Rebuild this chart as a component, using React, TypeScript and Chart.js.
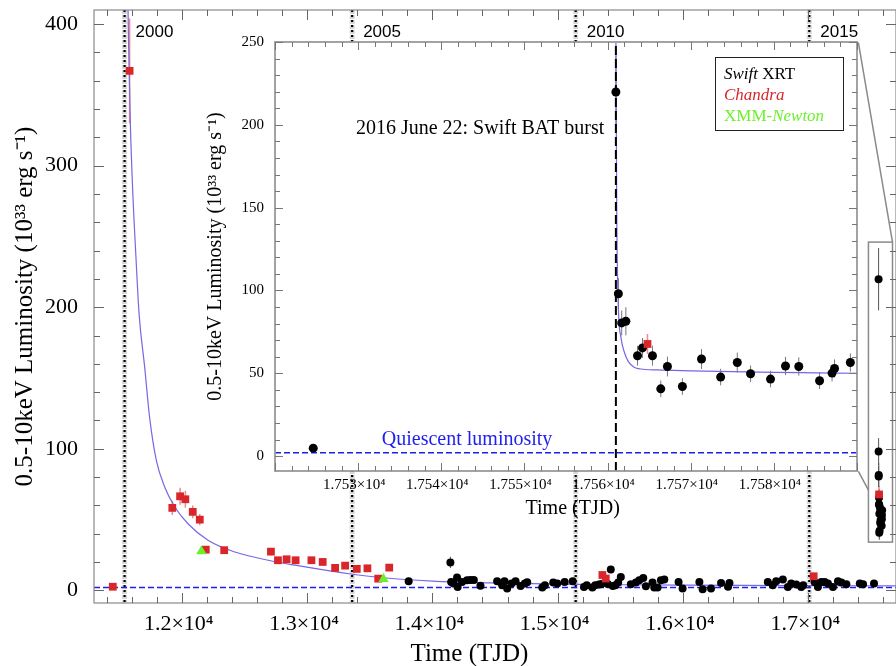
import React, { useEffect, useRef } from "react";
import { Chart, registerables } from "chart.js";
Chart.register(...registerables);

const SERIF = "'Liberation Serif', 'Times New Roman', serif";
const SANS = "'Liberation Sans', Arial, sans-serif";

// ---------------- main light curve data (TJD, 10^33 erg/s) ----------------
const XRT_T = [
  13811, 14144, 14150, 14170, 14197, 14202, 14237, 14277, 14304, 14331,
  14384, 14517, 14557, 14576, 14597, 14632, 14664, 14704, 14738, 14757,
  14877, 14898, 14965, 14997, 15056, 15120, 15210, 15232, 15277, 15300,
  15330, 15350, 15400, 15424, 15440, 15460, 15483, 15504, 15584, 15624,
  15651, 15683, 15704, 15757, 15771, 15797, 15824, 15851, 15965, 15997,
  16131, 16157, 16224, 16304, 16360, 16371, 16677, 16717, 16744, 16797,
  16837, 16864, 16904, 16944, 16960, 17051, 17077, 17104, 17131, 17157,
  17197, 17237, 17264, 17304, 17411, 17437,
];
const XRT_L = [
  6.4, 19.7, 5.9, 4.7, 9.0, 2.3, 5.9, 7.1, 7.3, 7.3,
  3.2, 6.4, 3.5, 6.4, 1.2, 4.7, 6.4, 3.0, 4.7, 5.6,
  1.9, 3.5, 5.4, 4.7, 5.9, 6.4, 2.3, 3.5, 1.9, 3.5,
  4.0, 4.5, 4.5, 14.6, 3.0, 3.5, 5.4, 9.4, 4.2, 5.4,
  7.1, 8.7, 2.8, 5.4, 1.9, 1.9, 7.1, 7.6, 5.9, 1.2,
  5.9, 0.7, 1.2, 5.2, 2.5, 5.2, 5.9, 3.5, 6.4, 7.6,
  2.3, 4.7, 4.0, 2.3, 3.5, 5.6, 2.3, 5.9, 5.9, 4.7,
  2.3, 6.4, 5.4, 4.2, 4.7, 4.2,
];
const XRT_E = [
  1.5, 4, 1.5, 1.5, 1.5, 1.5, 1.5, 1.5, 1.5, 1.5,
  1.5, 1.5, 1.5, 1.5, 1.5, 1.5, 1.5, 1.5, 1.5, 1.5,
  1.5, 1.5, 1.5, 1.5, 1.5, 1.5, 1.5, 1.5, 1.5, 1.5,
  1.5, 1.5, 1.5, 2.5, 1.5, 1.5, 1.5, 2, 1.5, 1.5,
  1.5, 1.5, 1.5, 1.5, 1.5, 1.5, 1.5, 1.5, 1.5, 1.5,
  1.5, 1.5, 1.5, 1.5, 1.5, 1.5, 1.5, 1.5, 1.5, 1.5,
  1.5, 1.5, 1.5, 1.5, 1.5, 1.5, 1.5, 1.5, 1.5, 1.5,
  1.5, 1.5, 1.5, 1.5, 1.5, 1.5,
];

const CXO_T = [
  11450, 11584, 11925, 11987, 12029, 12088, 12144, 12192, 12339, 12712,
  12768, 12837, 12909, 13035, 13125, 13224, 13304, 13397, 13482, 13568,
  13656, 15357, 15384, 17043,
];
const CXO_L = [
  2.5, 367, 58.2, 66.4, 64.3, 55.4, 49.9, 28.7, 28.3, 27.3,
  21.2, 21.9, 21.2, 21.2, 20.0, 15.8, 17.4, 15.1, 15.5, 8.2,
  16.0, 10.8, 8.3, 9.9,
];
const CXO_E = [
  1, 37, 5, 6, 6, 4.5, 4, 2.5, 2.5, 2.5,
  2, 2, 2, 2, 2, 2, 2, 2, 2, 1.5,
  2, 1.5, 1.5, 1.5,
];

const XMM_T = [12157, 13610];
const XMM_L = [27.5, 8.0];

// outburst-decay model
const FIT_T = [
  11565, 11575, 11590, 11610, 11635, 11660, 11704, 11744, 11797, 11864,
  11944, 12050, 12210, 12424, 12690, 12904, 13360, 13584, 14000, 14464,
  15000, 15500, 16000, 16500, 17000, 17700,
];
const FIT_L = [
  450, 390, 330, 280, 235, 195, 158, 122, 92, 73,
  59, 47, 35.3, 27, 21.2, 17.7, 11.3, 9, 6.5, 5.2,
  4.3, 3.9, 3.6, 3.4, 3.3, 3.1,
];

const QUIESCENT = 2;

const YEAR_LABELS = ["2000", "2005", "2010", "2015"];
const YEAR_TJD = [11544, 13360, 15144, 17008];

const MAIN_X_TICKS = [12000, 13000, 14000, 15000, 16000, 17000];
const MAIN_X_TICK_LABELS = ["1.2×10⁴", "1.3×10⁴", "1.4×10⁴", "1.5×10⁴", "1.6×10⁴", "1.7×10⁴"];
const MAIN_Y_TICKS = [0, 100, 200, 300, 400];

// zoom box around the 2016 outburst, in main-chart data units
const BOX_T = [17480, 17672];
const BOX_L = [34, 246];
// inset corners expressed in main-chart data units (for connector lines)
const INSET_CORNER_T = 17400;
const INSET_CORNER_L = [387, 84];
const BOX_LINK_L = 70.7;
const MAIN_XTITLE_T = 14296;

// ---------------- inset (2016 outburst) data ----------------
const INSET_XRT_T = [
  17524.6, 17561.0, 17561.3, 17561.7, 17562.2, 17563.6, 17564.2, 17565.4, 17566.4, 17567.2,
  17569.0, 17571.3, 17573.6, 17575.6, 17577.2, 17579.6, 17581.4, 17583.0, 17585.5, 17587.0,
  17587.3, 17589.2,
];
const INSET_XRT_L = [
  4.8, 219.8, 98, 80.4, 81.4, 60.6, 65.3, 60.6, 40.6, 54.1,
  42, 58.6, 47.7, 56.5, 49.7, 46.5, 54.4, 54.1, 45.5, 50.1,
  52.9, 56.5,
];
const INSET_XRT_E = [
  1, 22, 9.5, 7.5, 8.5, 6, 6, 6, 5, 6,
  5, 6, 5, 6, 5, 5, 5.5, 5.5, 5, 5,
  5.5, 5.5,
];
const INSET_CXO_T = [17564.8];
const INSET_CXO_L = [67.7];
const INSET_CXO_E = [6];

const INSET_FIT_T = [
  17561.0, 17561.1, 17561.3, 17561.6, 17562.0, 17562.5, 17563.2, 17564.0, 17566.0, 17570.0,
  17575.0, 17580.0, 17585.0, 17590.0,
];
const INSET_FIT_L = [
  255, 150, 90, 72, 63, 57, 53.7, 52.6, 52.0, 51.5,
  51.0, 50.6, 50.3, 50.0,
];

const BURST_TJD = 17561;
const INSET_X_TICKS = [17530, 17540, 17550, 17560, 17570, 17580];
const INSET_X_TICK_LABELS = ["1.753×10⁴", "1.754×10⁴", "1.755×10⁴", "1.756×10⁴", "1.757×10⁴", "1.758×10⁴"];
const INSET_Y_TICKS = [0, 50, 100, 150, 200, 250];
const INSET_XTITLE_T = 17555.8;

const BURST_TEXT = "2016 June 22: Swift BAT burst";
const BURST_TEXT_AT = [17559.6, 194.5];
const QUIESCENT_TEXT = "Quiescent luminosity";
const QUIESCENT_TEXT_AT = [17543.1, 6.7];

const Y_TITLE = "0.5-10keV Luminosity (10³³ erg s⁻¹)";
const X_TITLE = "Time (TJD)";

const RED = "#d8262a";
const RED_ERR = "#ee8a8a";
const GREEN = "#6cf02c";
const BLUE_FIT = "#7468e4";
const BLUE_Q = "#1e1ef0";

const pts = (t: number[], l: number[]) => t.map((x, i) => ({ x, y: l[i] }));

// ---------------- plugins ----------------
function frameTicks(id: string, cfg: any) {
  return {
    id,
    afterDatasetsDraw(chart: any) {
      const { ctx, chartArea: a, scales } = chart;
      const x = scales.x, y = scales.y;
      ctx.save();
      ctx.strokeStyle = cfg.frameColor;
      ctx.lineWidth = cfg.frameWidth;
      ctx.strokeRect(a.left, a.top, a.right - a.left, a.bottom - a.top);
      ctx.strokeStyle = cfg.tickColor;
      ctx.lineWidth = 1;
      ctx.beginPath();
      const isMajor = (v: number, m: number) => Math.abs(v / m - Math.round(v / m)) < 1e-6;
      const n0 = Math.ceil(x.min / cfg.xMinor);
      for (let k = n0; k * cfg.xMinor <= x.max + 1e-9; k++) {
        const v = k * cfg.xMinor;
        const px = Math.round(x.getPixelForValue(v)) + 0.5;
        const len = isMajor(v, cfg.xMajor) ? cfg.majorLen : cfg.minorLen;
        ctx.moveTo(px, a.bottom); ctx.lineTo(px, a.bottom - len);
        ctx.moveTo(px, a.top); ctx.lineTo(px, a.top + len);
      }
      const m0 = Math.ceil(y.min / cfg.yMinor);
      for (let k = m0; k * cfg.yMinor <= y.max + 1e-9; k++) {
        const v = k * cfg.yMinor;
        const py = Math.round(y.getPixelForValue(v)) + 0.5;
        const len = isMajor(v, cfg.yMajor) ? cfg.majorLen : cfg.minorLen;
        ctx.moveTo(a.left, py); ctx.lineTo(a.left + len, py);
        ctx.moveTo(a.right, py); ctx.lineTo(a.right - len, py);
      }
      ctx.stroke();
      ctx.restore();
    },
  };
}

const errorBars = {
  id: "errorBars",
  beforeDatasetsDraw(chart: any) {
    const { ctx, chartArea: a, scales } = chart;
    const x = scales.x, y = scales.y;
    ctx.save();
    ctx.beginPath();
    ctx.rect(a.left, a.top, a.right - a.left, a.bottom - a.top);
    ctx.clip();
    chart.data.datasets.forEach((ds: any) => {
      if (!ds.errors) return;
      ctx.strokeStyle = ds.errorColor;
      ctx.lineWidth = ds.errorWidth || 1;
      ctx.beginPath();
      ds.data.forEach((p: any, i: number) => {
        const e = ds.errors[i];
        if (!e) return;
        const px = x.getPixelForValue(p.x);
        ctx.moveTo(px, y.getPixelForValue(p.y - e));
        ctx.lineTo(px, y.getPixelForValue(p.y + e));
      });
      ctx.stroke();
    });
    ctx.restore();
  },
};

const mainDecor = {
  id: "mainDecor",
  beforeDatasetsDraw(chart: any) {
    const { ctx, chartArea: a, scales } = chart;
    const x = scales.x;
    ctx.save();
    YEAR_TJD.forEach((t) => {
      const px = x.getPixelForValue(t);
      ctx.strokeStyle = "rgba(0,0,0,0.16)";
      ctx.lineWidth = 5;
      ctx.setLineDash([4, 1]);
      ctx.beginPath(); ctx.moveTo(px, a.top); ctx.lineTo(px, a.bottom); ctx.stroke();
      ctx.strokeStyle = "#000";
      ctx.lineWidth = 2.2;
      ctx.setLineDash([2, 3]);
      ctx.beginPath(); ctx.moveTo(px, a.top); ctx.lineTo(px, a.bottom); ctx.stroke();
    });
    ctx.restore();
  },
  afterDatasetsDraw(chart: any) {
    const { ctx, chartArea: a, scales } = chart;
    const x = scales.x, y = scales.y;
    ctx.save();
    ctx.fillStyle = "#000";
    ctx.font = `17px ${SANS}`;
    ctx.textBaseline = "alphabetic";
    ctx.textAlign = "left";
    YEAR_TJD.forEach((t, i) => {
      ctx.fillText(YEAR_LABELS[i], x.getPixelForValue(t) + 11, a.top + 27);
    });
    // zoom box + connectors
    ctx.strokeStyle = "#8a8a8a";
    ctx.lineWidth = 1.5;
    const bx0 = x.getPixelForValue(BOX_T[0]), bx1 = x.getPixelForValue(BOX_T[1]);
    const by0 = y.getPixelForValue(BOX_L[1]), by1 = y.getPixelForValue(BOX_L[0]);
    ctx.strokeRect(bx0, by0, bx1 - bx0, by1 - by0);
    const cx = x.getPixelForValue(INSET_CORNER_T);
    ctx.beginPath();
    ctx.moveTo(cx, y.getPixelForValue(INSET_CORNER_L[0]));
    ctx.lineTo(bx1, by0);
    ctx.moveTo(cx, y.getPixelForValue(INSET_CORNER_L[1]));
    ctx.lineTo(bx0, y.getPixelForValue(BOX_LINK_L));
    ctx.stroke();
    // x-axis title
    ctx.font = `25px ${SERIF}`;
    ctx.textAlign = "center";
    ctx.fillStyle = "#000";
    ctx.fillText(X_TITLE, x.getPixelForValue(MAIN_XTITLE_T), a.bottom + 58);
    ctx.restore();
  },
};

const insetDecor = {
  id: "insetDecor",
  beforeDraw(chart: any) {
    const { ctx, chartArea: a } = chart;
    ctx.save();
    ctx.fillStyle = "#fff";
    ctx.fillRect(a.left, a.top, a.right - a.left, a.bottom - a.top);
    ctx.restore();
  },
  afterDatasetsDraw(chart: any) {
    const { ctx, chartArea: a, scales } = chart;
    const x = scales.x, y = scales.y;
    ctx.save();
    ctx.font = `20px ${SERIF}`;
    ctx.fillStyle = "#000";
    ctx.textAlign = "right";
    ctx.textBaseline = "alphabetic";
    ctx.fillText(BURST_TEXT, x.getPixelForValue(BURST_TEXT_AT[0]), y.getPixelForValue(BURST_TEXT_AT[1]));
    // x-axis title of the inset
    ctx.textAlign = "center";
    ctx.fillText(X_TITLE, x.getPixelForValue(INSET_XTITLE_T), a.bottom + 43);
    ctx.fillStyle = BLUE_Q;
    ctx.fillText(QUIESCENT_TEXT, x.getPixelForValue(QUIESCENT_TEXT_AT[0]), y.getPixelForValue(QUIESCENT_TEXT_AT[1]));
    // legend
    const bw = 128, bh = 73;
    const bx = a.right - 14 - bw, by = a.top + 15;
    ctx.strokeStyle = "#222";
    ctx.lineWidth = 1;
    ctx.strokeRect(bx + 0.5, by + 0.5, bw, bh);
    const lines = [
      [{ t: "Swift", it: true, c: "#000" }, { t: " XRT", it: false, c: "#000" }],
      [{ t: "Chandra", it: true, c: RED }],
      [{ t: "XMM-", it: false, c: GREEN }, { t: "Newton", it: true, c: GREEN }],
    ];
    ctx.textAlign = "left";
    lines.forEach((segs, i) => {
      let tx = bx + 9;
      const ty = by + 22 + i * 21;
      segs.forEach((s) => {
        ctx.font = `${s.it ? "italic " : ""}17px ${SERIF}`;
        ctx.fillStyle = s.c;
        ctx.fillText(s.t, tx, ty);
        tx += ctx.measureText(s.t).width;
      });
    });
    ctx.restore();
  },
};

// ---------------- configs ----------------
function mainConfig(): any {
  return {
    type: "scatter",
    data: {
      datasets: [
        {
          data: pts(XMM_T, XMM_L),
          pointStyle: "triangle",
          pointRadius: 6,
          backgroundColor: GREEN,
          borderColor: GREEN,
          borderWidth: 0,
        },
        {
          data: pts(CXO_T, CXO_L).concat(pts(INSET_CXO_T, INSET_CXO_L)),
          errors: CXO_E.concat(INSET_CXO_E),
          errorColor: RED_ERR,
          errorWidth: 1.5,
          pointStyle: "rect",
          pointRadius: 5.5,
          backgroundColor: RED,
          borderColor: RED,
          borderWidth: 0,
        },
        {
          data: pts(XRT_T, XRT_L).concat(pts(INSET_XRT_T, INSET_XRT_L)),
          errors: XRT_E.concat(INSET_XRT_E),
          errorColor: "#555",
          errorWidth: 1,
          pointStyle: "circle",
          pointRadius: 4,
          backgroundColor: "#000",
          borderColor: "#000",
          borderWidth: 0,
        },
        {
          data: pts(FIT_T, FIT_L),
          showLine: true,
          pointRadius: 0,
          borderColor: BLUE_FIT,
          borderWidth: 1.2,
          cubicInterpolationMode: "monotone",
        },
        {
          data: [{ x: 11300, y: QUIESCENT }, { x: 17700, y: QUIESCENT }],
          showLine: true,
          pointRadius: 0,
          borderColor: BLUE_Q,
          borderWidth: 1.6,
          borderDash: [6, 3],
        },
      ],
    },
    options: {
      animation: false,
      responsive: false,
      maintainAspectRatio: false,
      layout: { padding: { left: 0, right: 0, top: 10, bottom: 0 } },
      plugins: { legend: { display: false }, tooltip: { enabled: false } },
      scales: {
        x: {
          type: "linear",
          min: 11300,
          max: 17700,
          grid: { display: false, drawTicks: false },
          border: { display: false },
          afterBuildTicks: (s: any) => { s.ticks = MAIN_X_TICKS.map((v) => ({ value: v })); },
          ticks: {
            autoSkip: false,
            maxRotation: 0,
            labelOffset: -3,
            font: { family: SERIF, size: 22 },
            color: "#000",
            padding: 8,
            callback: (_v: any, i: number) => MAIN_X_TICK_LABELS[i],
          },
          afterFit: (s: any) => { s.height = 63; s.paddingLeft = 0; s.paddingRight = 0; },
        },
        y: {
          type: "linear",
          min: -9,
          max: 410,
          grid: { display: false, drawTicks: false },
          border: { display: false },
          afterBuildTicks: (s: any) => { s.ticks = MAIN_Y_TICKS.map((v) => ({ value: v })); },
          ticks: {
            autoSkip: false,
            font: { family: SERIF, size: 22 },
            color: "#000",
            padding: 16,
            callback: (v: any) => String(v),
          },
          title: {
            display: true,
            text: Y_TITLE,
            font: { family: SERIF, size: 25 },
            color: "#000",
            padding: { top: 10, bottom: 0 },
          },
          afterFit: (s: any) => { s.width = 94; s.paddingTop = 0; s.paddingBottom = 0; },
        },
      },
    },
    plugins: [
      mainDecor,
      errorBars,
      frameTicks("mainFrame", {
        frameColor: "#8a8a8a", frameWidth: 1.2, tickColor: "#666",
        xMinor: 200, xMajor: 1000, yMinor: 20, yMajor: 100, majorLen: 10, minorLen: 6,
      }),
    ],
  };
}

function insetConfig(): any {
  return {
    type: "scatter",
    data: {
      datasets: [
        {
          data: pts(INSET_CXO_T, INSET_CXO_L),
          errors: INSET_CXO_E,
          errorColor: RED_ERR,
          errorWidth: 1.5,
          pointStyle: "rect",
          pointRadius: 5.5,
          backgroundColor: RED,
          borderColor: RED,
          borderWidth: 0,
        },
        {
          data: pts(INSET_XRT_T, INSET_XRT_L),
          errors: INSET_XRT_E,
          errorColor: "#777",
          errorWidth: 1,
          pointStyle: "circle",
          pointRadius: 4.5,
          backgroundColor: "#000",
          borderColor: "#000",
          borderWidth: 0,
        },
        {
          data: [{ x: BURST_TJD, y: -9 }, { x: BURST_TJD, y: 250 }],
          showLine: true,
          pointRadius: 0,
          borderColor: "#000",
          borderWidth: 2,
          borderDash: [9, 4],
        },
        {
          data: pts(INSET_FIT_T, INSET_FIT_L),
          showLine: true,
          pointRadius: 0,
          borderColor: BLUE_FIT,
          borderWidth: 1.2,
          cubicInterpolationMode: "monotone",
        },
        {
          data: [{ x: 17520, y: QUIESCENT }, { x: 17590, y: QUIESCENT }],
          showLine: true,
          pointRadius: 0,
          borderColor: BLUE_Q,
          borderWidth: 1.6,
          borderDash: [6, 3],
        },
      ],
    },
    options: {
      animation: false,
      responsive: false,
      maintainAspectRatio: false,
      layout: { padding: { left: 0, right: 13, top: 12, bottom: 0 } },
      plugins: { legend: { display: false }, tooltip: { enabled: false } },
      scales: {
        x: {
          type: "linear",
          min: 17520,
          max: 17590,
          grid: { display: false, drawTicks: false },
          border: { display: false },
          afterBuildTicks: (s: any) => { s.ticks = INSET_X_TICKS.map((v) => ({ value: v })); },
          ticks: {
            autoSkip: false,
            maxRotation: 0,
            labelOffset: -4,
            font: { family: SERIF, size: 15 },
            color: "#000",
            padding: 5,
            callback: (_v: any, i: number) => INSET_X_TICK_LABELS[i],
          },
          afterFit: (s: any) => { s.height = 54; s.paddingLeft = 0; s.paddingRight = 0; },
        },
        y: {
          type: "linear",
          min: -9,
          max: 250,
          grid: { display: false, drawTicks: false },
          border: { display: false },
          afterBuildTicks: (s: any) => { s.ticks = INSET_Y_TICKS.map((v) => ({ value: v })); },
          ticks: {
            autoSkip: false,
            font: { family: SERIF, size: 15 },
            color: "#000",
            padding: 11,
            callback: (v: any) => String(v),
          },
          title: {
            display: true,
            text: Y_TITLE,
            font: { family: SERIF, size: 20 },
            color: "#000",
            padding: { top: 4, bottom: 0 },
          },
          afterFit: (s: any) => { s.width = 75; s.paddingTop = 0; s.paddingBottom = 0; },
        },
      },
    },
    plugins: [
      insetDecor,
      errorBars,
      frameTicks("insetFrame", {
        frameColor: "#9a9a9a", frameWidth: 1.8, tickColor: "#777",
        xMinor: 2, xMajor: 10, yMinor: 10, yMajor: 50, majorLen: 8, minorLen: 5,
      }),
    ],
  };
}

export default function App() {
  const mainRef = useRef<HTMLCanvasElement>(null);
  const insetRef = useRef<HTMLCanvasElement>(null);
  useEffect(() => {
    const main = new Chart(mainRef.current as HTMLCanvasElement, mainConfig());
    const inset = new Chart(insetRef.current as HTMLCanvasElement, insetConfig());
    return () => {
      main.destroy();
      inset.destroy();
    };
  }, []);
  return (
    <div style={{ position: "absolute", left: 0, top: 0, width: 896, height: 666, background: "#fff", overflow: "hidden" }}>
      <canvas
        ref={mainRef}
        width={902}
        height={666}
        style={{ position: "absolute", left: 0, top: 0, width: 902, height: 666 }}
      />
      <canvas
        ref={insetRef}
        width={670}
        height={495}
        style={{ position: "absolute", left: 200, top: 30, width: 670, height: 495 }}
      />
    </div>
  );
}
